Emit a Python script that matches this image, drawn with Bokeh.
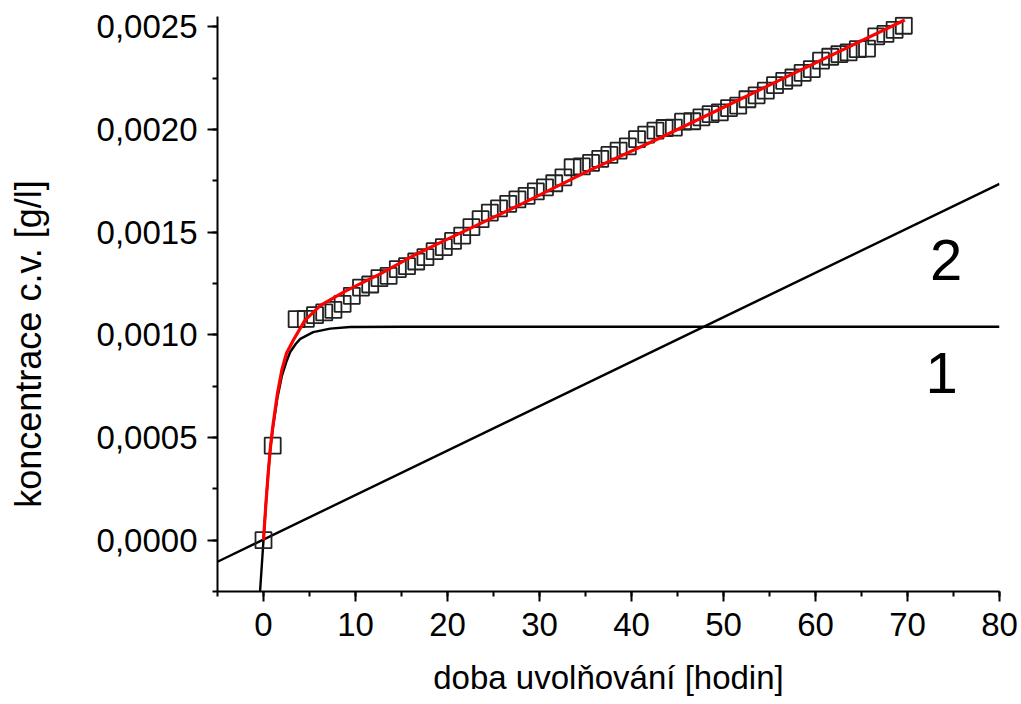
from bokeh.plotting import figure
from bokeh.models import (Range1d, SingleIntervalTicker, CustomJSTickFormatter,
                          LinearAxis, FixedTicker)
from bokeh.core.properties import value
from bokeh.embed import file_html
from bokeh.resources import INLINE

# measured data (hours, g/l)
t_data = [0, 1, 3.6, 4.6, 5.6, 6.6, 7.6, 8.6, 9.6, 10.6, 11.6, 12.6, 13.6, 14.6,
          15.6, 16.6, 17.6, 18.6, 19.6, 20.6, 21.6, 22.6, 23.6, 24.6, 25.6, 26.6,
          27.6, 28.6, 29.6, 30.6, 31.6, 32.6, 33.6, 34.6, 35.6, 36.6, 37.6, 38.6,
          39.6, 40.6, 41.6, 42.6, 43.6, 44.6, 45.6, 46.6, 47.6, 48.6, 49.6, 50.6,
          51.6, 52.6, 53.6, 54.6, 55.6, 56.6, 57.6, 58.6, 59.6, 60.6, 61.6, 62.6,
          63.6, 64.6, 65.6, 66.6, 67.6, 68.6, 69.6]
c_data = [0.0, 0.00046, 0.001076, 0.001078, 0.001096, 0.001109, 0.001121, 0.001151,
          0.001190, 0.001230, 0.001245, 0.001276, 0.001287, 0.001320, 0.001334,
          0.001357, 0.001378, 0.001407, 0.001427, 0.001457, 0.001483, 0.001524,
          0.001563, 0.001595, 0.001616, 0.001638, 0.001659, 0.001677, 0.001698,
          0.001718, 0.001738, 0.001767, 0.001816, 0.001820, 0.001837, 0.001857,
          0.001876, 0.001897, 0.001918, 0.001953, 0.001975, 0.001994, 0.002007,
          0.002009, 0.002038, 0.002040, 0.002059, 0.002075, 0.002083, 0.002104,
          0.002116, 0.002147, 0.002166, 0.002189, 0.002216, 0.002237, 0.002253,
          0.002275, 0.002294, 0.002335, 0.002354, 0.002367, 0.002375, 0.002391,
          0.002394, 0.002453, 0.002465, 0.002485, 0.002505]

# curve 1 (saturating component)
t_curve1 = [-0.45, 0, 0.25, 0.5, 0.75, 1.0, 1.5, 2.0, 2.5, 2.9, 3.5, 4.0, 5.4,
            7.25, 9.4, 15, 80]
c_curve1 = [-0.00030, 0.0, 0.00017, 0.00032, 0.00045, 0.00054, 0.00069, 0.00080,
            0.00087, 0.000916, 0.000955, 0.00098, 0.001013, 0.00103, 0.001038,
            0.001039, 0.001039]

# line 2 (linear component)
t_line2 = [-5, 80]
c_line2 = [-0.000105, 0.001735]

# total fit (red)
t_fit = [0, 0.25, 0.5, 0.75, 1.0, 1.5, 2.0, 2.5, 3.25, 4.5, 6.2, 9.0, 12.7, 16.3,
         20.0, 27.9, 35.2, 42.5, 49.8, 55.6, 69.7]
c_fit = [0.0, 0.00017, 0.00032, 0.00045, 0.00055, 0.00071, 0.00083, 0.00091,
         0.000975, 0.00107, 0.001143, 0.001215, 0.001297, 0.001386, 0.001466,
         0.001634, 0.001796, 0.001946, 0.002103, 0.002229, 0.002533]

curve_labels = ["1", "2"]
x_title = "doba uvolňování [hodin]"
y_title = "koncentrace c.v. [g/l]"

FONT = "Liberation Sans"

p = figure(width=1021, height=704, output_backend="svg", toolbar_location=None,
           x_range=Range1d(-5, 80), y_range=Range1d(-0.00025, 0.00255),
           min_border_left=217, min_border_right=22, min_border_top=16,
           min_border_bottom=113)
p.title.visible = False
p.outline_line_color = None
p.xgrid.grid_line_color = None
p.ygrid.grid_line_color = None
p.background_fill_color = "white"
p.border_fill_color = "white"

p.line(t_line2, c_line2, line_color="black", line_width=2.4)
p.line(t_curve1, c_curve1, line_color="black", line_width=2.4, line_join="round")
p.scatter(t_data, c_data, marker="square", size=16, fill_color=None,
          line_color="#222222", line_width=1.8)
p.line(t_fit, c_fit, line_color="#ff0000", line_width=3.2, line_join="round")

p.text(x=[73.7], y=[0.000815], text=[curve_labels[0]], text_font=value(FONT),
       text_font_size="58px", text_align="center", text_baseline="middle",
       text_color="black")
p.text(x=[74.2], y=[0.001362], text=[curve_labels[1]], text_font=value(FONT),
       text_font_size="58px", text_align="center", text_baseline="middle",
       text_color="black")

p.xaxis.ticker = SingleIntervalTicker(interval=10, num_minor_ticks=2)
p.yaxis.ticker = SingleIntervalTicker(interval=0.0005, num_minor_ticks=2)
p.yaxis.formatter = CustomJSTickFormatter(code="return tick.toFixed(4).replace('.', ',');")

for ax in (p.xaxis[0], p.yaxis[0]):
    ax.axis_line_width = 2
    ax.axis_line_color = "black"
    ax.major_tick_line_width = 2
    ax.minor_tick_line_width = 2
    ax.major_tick_line_color = "black"
    ax.minor_tick_line_color = "black"
    ax.major_tick_out = 10
    ax.major_tick_in = 0
    ax.minor_tick_out = 5
    ax.minor_tick_in = 0
    ax.major_label_text_font = FONT
    ax.major_label_text_font_size = "33px"
    ax.major_label_text_color = "black"
    ax.axis_label_text_font = FONT
    ax.axis_label_text_font_style = "normal"
    ax.axis_label_text_color = "black"

p.xaxis.axis_label = x_title
p.xaxis.axis_label_text_font_size = "33px"
p.xaxis.major_label_standoff = 11
p.yaxis.major_label_standoff = 10
p.xaxis.axis_label_standoff = 20

# y-axis title on a bare outer axis; trailing no-break spaces move the
# visible text a little below the frame centre, as in the reference
title_axis = LinearAxis(ticker=FixedTicker(ticks=[]),
                        axis_line_color=None, major_tick_line_color=None,
                        minor_tick_line_color=None, major_tick_out=0,
                        minor_tick_out=0, major_label_text_font_size="1px",
                        axis_label=y_title + "\u00a0" * 8, axis_label_text_font=FONT,
                        axis_label_text_font_size="36px",
                        axis_label_text_font_style="normal",
                        axis_label_text_color="black", axis_label_standoff=45)
p.add_layout(title_axis, "left")

open("out.html", "w").write(file_html(p, INLINE))
